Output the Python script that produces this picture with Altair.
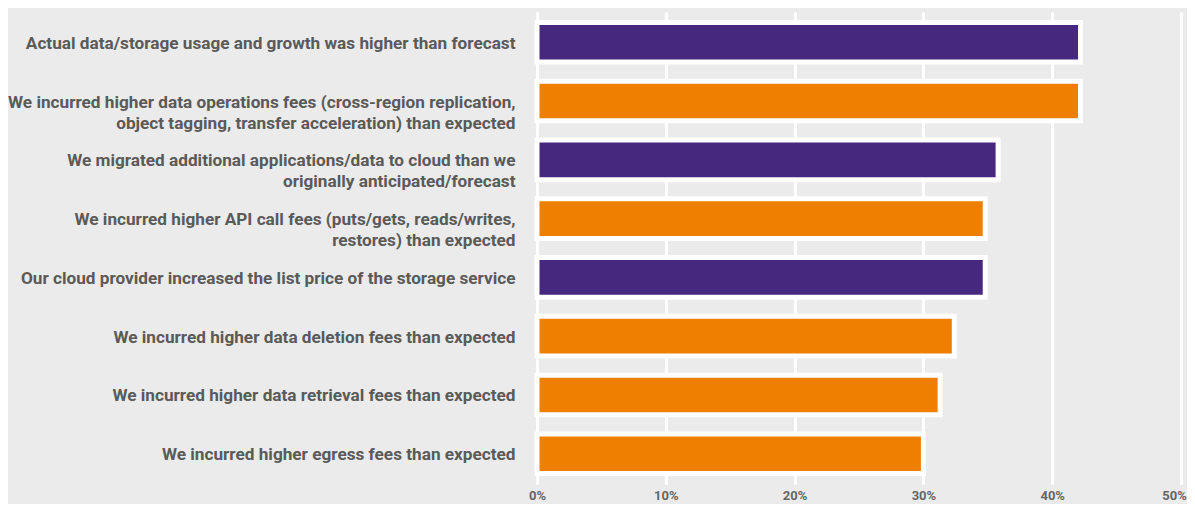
import altair as alt
import pandas as pd

categories = [
    "Actual data/storage usage and growth was higher than forecast",
    "We incurred higher data operations fees (cross-region replication,|object tagging, transfer acceleration) than expected",
    "We migrated additional applications/data to cloud than we|originally anticipated/forecast",
    "We incurred higher API call fees (puts/gets, reads/writes,|restores) than expected",
    "Our cloud provider increased the list price of the storage service",
    "We incurred higher data deletion fees than expected",
    "We incurred higher data retrieval fees than expected",
    "We incurred higher egress fees than expected",
]
values = [0.422, 0.422, 0.358, 0.348, 0.348, 0.324, 0.313, 0.300]
groups = ["a", "b", "a", "b", "a", "b", "b", "b"]
tick_values = [0, 0.1, 0.2, 0.3, 0.4, 0.5]

df = pd.DataFrame({"cat": categories, "value": values, "group": groups})

chart = (
    alt.Chart(df)
    .mark_bar(stroke="white", strokeWidth=5)
    .encode(
        x=alt.X(
            "value:Q",
            scale=alt.Scale(domain=[0, 0.5], nice=False),
            axis=alt.Axis(
                values=tick_values,
                format=".0%",
                title=None,
                ticks=False,
                domain=False,
                grid=True,
                gridColor="white",
                gridWidth=3,
                gridCap="round",
                labelFlush=False,
                labelFont="Roboto",
                labelFontWeight="bold",
                labelFontSize=13,
                labelColor="#666666",
                labelPadding=6,
                labelOffset={"condition": {"test": "datum.value == 0.5", "value": -7}, "value": 0},
            ),
        ),
        y=alt.Y(
            "cat:N",
            sort=categories,
            scale=alt.Scale(paddingInner=0.325, paddingOuter=0.16),
            axis=alt.Axis(
                title=None,
                ticks=False,
                domain=False,
                grid=False,
                labelExpr="split(datum.label, '|')",
                labelFont="Roboto",
                labelFontWeight="bold",
                labelFontSize=17.2,
                labelColor="#5a5a5a",
                labelPadding=22,
                labelLimit=800,
                labelLineHeight=21,
                labelAlign="right",
                labelBaseline="middle",
                labelOffset=1.5,
            ),
        ),
        color=alt.Color(
            "group:N",
            scale=alt.Scale(domain=["a", "b"], range=["#46287f", "#ee7f00"]),
            legend=None,
        ),
    )
    .properties(
        width=644,
        height=470,
        background="#ebebeb",
        padding={"left": 529, "top": 5, "right": 6, "bottom": 21},
        autosize=alt.AutoSizeParams(type="none"),
    )
    .configure_view(stroke=None)
)

chart.save("out.html", embed_options={"renderer": "svg", "actions": False})
